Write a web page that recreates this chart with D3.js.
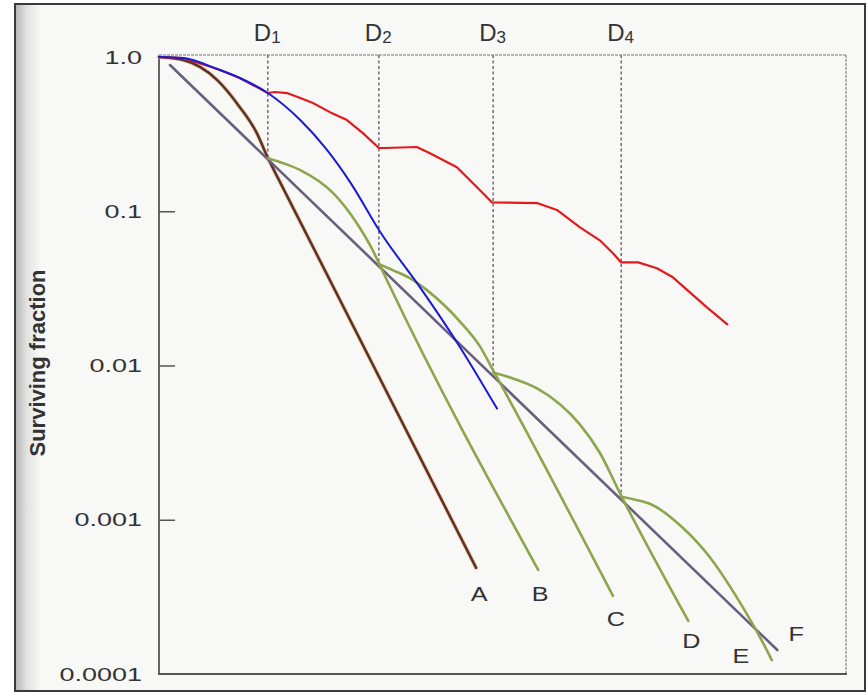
<!DOCTYPE html>
<html>
<head>
<meta charset="utf-8">
<script src="https://cdn.jsdelivr.net/npm/d3@7"></script>
<style>
  html, body { margin: 0; padding: 0; background: #ffffff; }
  svg { display: block; }
  text { font-family: "Liberation Sans", Arial, Helvetica, sans-serif; fill: #333; }
</style>
</head>
<body>
<svg id="chart" width="868" height="694"></svg>
<script>
// Surviving fraction versus dose: single dose, fractionated doses and the effective line.

const yTickValues = [1, 0.1, 0.01, 0.001, 0.0001];
const yTickLabels = ["1.0", "0.1", "0.01", "0.001", "0.0001"];

// Fraction boundaries D1..D4 (dose, survival at the end of each fraction)
const fractionNames = ["1", "2", "3", "4"];
const fractionDoses = [1.98, 4.0, 6.08, 8.41];
const fractionSurvival = [0.221, 0.0453, 0.00901, 0.00141];

// Single acute dose
const curveA = [[0, 1], [0.44, 0.956], [1.06, 0.709], [1.47, 0.473], [1.78, 0.321],
  [1.98, 0.222], [2.2, 0.155], [5.77, 0.000488]];
// Survival after the 2nd..5th fraction
const curveB = [[1.98, 0.221], [2.26, 0.205], [2.57, 0.185], [3.17, 0.131], [3.6, 0.0836],
  [3.89, 0.0558], [4.02, 0.0446], [4.15, 0.0356], [6.9, 0.000473]];
const curveC = [[4.0, 0.0453], [4.26, 0.0414], [4.57, 0.0367], [4.88, 0.0307], [5.48, 0.0192],
  [5.84, 0.0133], [6.08, 0.00929], [6.26, 0.0071], [8.26, 0.000321]];
const curveD = [[6.08, 0.00901], [6.39, 0.00836], [6.88, 0.0071], [7.3, 0.00558], [7.66, 0.00414],
  [8.02, 0.00272], [8.41, 0.00143], [9.63, 0.000221]];
const curveE = [[8.41, 0.00141], [8.66, 0.00135], [8.93, 0.00127], [9.53, 0.000887], [10.03, 0.000567],
  [10.44, 0.000346], [10.81, 0.000208], [10.99, 0.000159], [11.15, 0.000123]];
// Effective dose-response line through the fraction points
const curveF = [[0.2, 0.887], [11.25, 0.000143]];

const curveBlue = [[0, 1], [0.44, 0.985], [1.06, 0.836], [1.47, 0.731], [1.98, 0.584], [2.57, 0.39],
  [3.06, 0.249], [3.48, 0.154], [4.04, 0.072], [4.75, 0.0321], [5.48, 0.0131], [6.15, 0.00526]];
const curveRed = [[0, 1], [0.44, 0.985], [1.06, 0.836], [1.47, 0.731], [1.98, 0.584], [2.11, 0.593],
  [2.33, 0.584], [2.57, 0.542], [2.8, 0.503], [3.11, 0.439], [3.42, 0.39], [3.71, 0.321], [4.0, 0.257],
  [4.11, 0.257], [4.69, 0.261], [4.93, 0.238], [5.42, 0.193], [5.84, 0.137], [6.06, 0.114], [6.88, 0.113],
  [7.24, 0.102], [7.66, 0.0787], [8.02, 0.0648], [8.26, 0.0534], [8.41, 0.0466], [8.72, 0.0466],
  [9.06, 0.0427], [9.35, 0.0373], [9.66, 0.0298], [9.97, 0.0238], [10.34, 0.0185]];

const curveNames = ["A", "B", "C", "D", "E", "F"];

const svg = d3.select("#chart");
const W = 868, H = 694;
const pLeft = 159, pRight = 846, pTop = 55, pBottom = 674;

const x = d3.scaleLinear().domain([0, 12.5]).range([pLeft, pRight]);
const y = d3.scaleLog().domain([0.0001, 1]).range([pBottom, 57]);

// page and frame
const defs = svg.append("defs");
const shade = defs.append("linearGradient").attr("id", "shade").attr("x1", 0).attr("x2", 1);
shade.append("stop").attr("offset", 0).attr("stop-color", "#b8b8b8");
shade.append("stop").attr("offset", 0.45).attr("stop-color", "#e2e2e2");
shade.append("stop").attr("offset", 1).attr("stop-color", "#f7f7f5");

svg.append("rect").attr("width", W).attr("height", H).attr("fill", "#ffffff");
svg.append("rect").attr("x", 15).attr("y", 4).attr("width", 850).attr("height", 687).attr("fill", "#f8f8f6");
svg.append("rect").attr("x", 16).attr("y", 5).attr("width", 24).attr("height", 685).attr("fill", "url(#shade)");
svg.append("rect").attr("x", 15).attr("y", 4).attr("width", 850).attr("height", 687)
  .attr("fill", "none").attr("stroke", "#3a3a3a").attr("stroke-width", 2);

// plot borders: dotted top/right, solid left/bottom
svg.append("line").attr("x1", pLeft).attr("x2", pRight).attr("y1", pTop).attr("y2", pTop)
  .attr("stroke", "#a0a0a0").attr("stroke-width", 1.6).attr("stroke-dasharray", "3,1");
svg.append("line").attr("x1", pRight).attr("x2", pRight).attr("y1", pTop).attr("y2", pBottom)
  .attr("stroke", "#a0a0a0").attr("stroke-width", 1.6).attr("stroke-dasharray", "3,1");

// y axis
const yAxis = d3.axisLeft(y).tickValues(yTickValues)
  .tickFormat((d, i) => yTickLabels[i]).tickSizeInner(-16).tickSizeOuter(0).tickPadding(17);
const gy = svg.append("g").attr("transform", `translate(${pLeft},0)`).call(yAxis);
gy.select(".domain").remove();
gy.selectAll(".tick line").attr("stroke", "#555").attr("stroke-width", 1.5)
  .attr("display", (d, i) => (i === 0 || i === yTickValues.length - 1) ? "none" : null);
const sx = 1.42;
gy.selectAll(".tick text")
  .attr("x", -17 / sx)
  .attr("transform", `scale(${sx},1)`)
  .attr("font-size", 19).attr("fill", "#444")
  .style("font-family", "'Liberation Sans', Arial, sans-serif");

svg.append("line").attr("x1", pLeft).attr("x2", pLeft).attr("y1", pTop).attr("y2", pBottom + 1)
  .attr("stroke", "#555").attr("stroke-width", 1.8);
svg.append("line").attr("x1", pLeft).attr("x2", pRight + 1).attr("y1", pBottom).attr("y2", pBottom)
  .attr("stroke", "#555").attr("stroke-width", 1.8);

svg.append("text")
  .attr("transform", `translate(37,363) rotate(-90)`)
  .attr("text-anchor", "middle").attr("dominant-baseline", "central")
  .attr("font-size", 22).attr("font-weight", "bold").attr("fill", "#3a3a3a")
  .text("Surviving fraction");

// fraction markers
const fracs = fractionDoses.map((d, i) => ({ dose: d, s: fractionSurvival[i], name: fractionNames[i] }));
svg.append("g").selectAll("line").data(fracs).join("line")
  .attr("x1", d => x(d.dose)).attr("x2", d => x(d.dose))
  .attr("y1", pTop).attr("y2", d => y(d.s))
  .attr("stroke", "#6f6f6f").attr("stroke-width", 1.5).attr("stroke-dasharray", "3,2.5");
const dl = svg.append("g").selectAll("text").data(fracs).join("text")
  .attr("x", d => x(d.dose) - 14).attr("y", 41)
  .attr("font-size", 24).attr("fill", "#444");
dl.append("tspan").text("D");
dl.append("tspan").attr("font-size", 17).attr("dy", 2).text(d => d.name);

// curves
const line = d3.line().x(d => x(d[0])).y(d => y(d[1])).curve(d3.curveMonotoneX);
const lineSharp = d3.line().x(d => x(d[0])).y(d => y(d[1]));

const g = svg.append("g").attr("fill", "none").attr("stroke-linecap", "round").attr("stroke-linejoin", "round");
g.append("path").attr("d", line(curveA)).attr("stroke", "#f2b48c").attr("stroke-width", 4.2).attr("opacity", 0.7);
g.append("path").attr("d", line(curveA)).attr("stroke", "#573427").attr("stroke-width", 2.5);
g.append("path").attr("d", lineSharp(curveF)).attr("stroke", "#67617f").attr("stroke-width", 2.6);
[curveB, curveC, curveD, curveE].forEach(c => {
  g.append("path").attr("d", line(c)).attr("stroke", "#8da64c").attr("stroke-width", 2.6);
});
g.append("path").attr("d", lineSharp(curveRed)).attr("stroke", "#e3191c").attr("stroke-width", 2.2);
g.append("path").attr("d", line(curveBlue)).attr("stroke", "#1a1ad6").attr("stroke-width", 2);

// curve letters, placed relative to each curve end
const ends = [curveA, curveB, curveC, curveD, curveE, curveF].map(c => c[c.length - 1]);
const offsets = [[3, 33], [2, 31], [3, 30], [3, 27], [-31, 3], [19, -9]];
const lsx = 1.2;
svg.append("g").selectAll("text").data(curveNames).join("text")
  .attr("transform", (d, i) => `translate(${x(ends[i][0]) + offsets[i][0]},${y(ends[i][1]) + offsets[i][1]}) scale(${lsx},1)`)
  .attr("text-anchor", "middle").attr("font-size", 21).attr("fill", "#333")
  .text(d => d);
</script>
</body>
</html>
